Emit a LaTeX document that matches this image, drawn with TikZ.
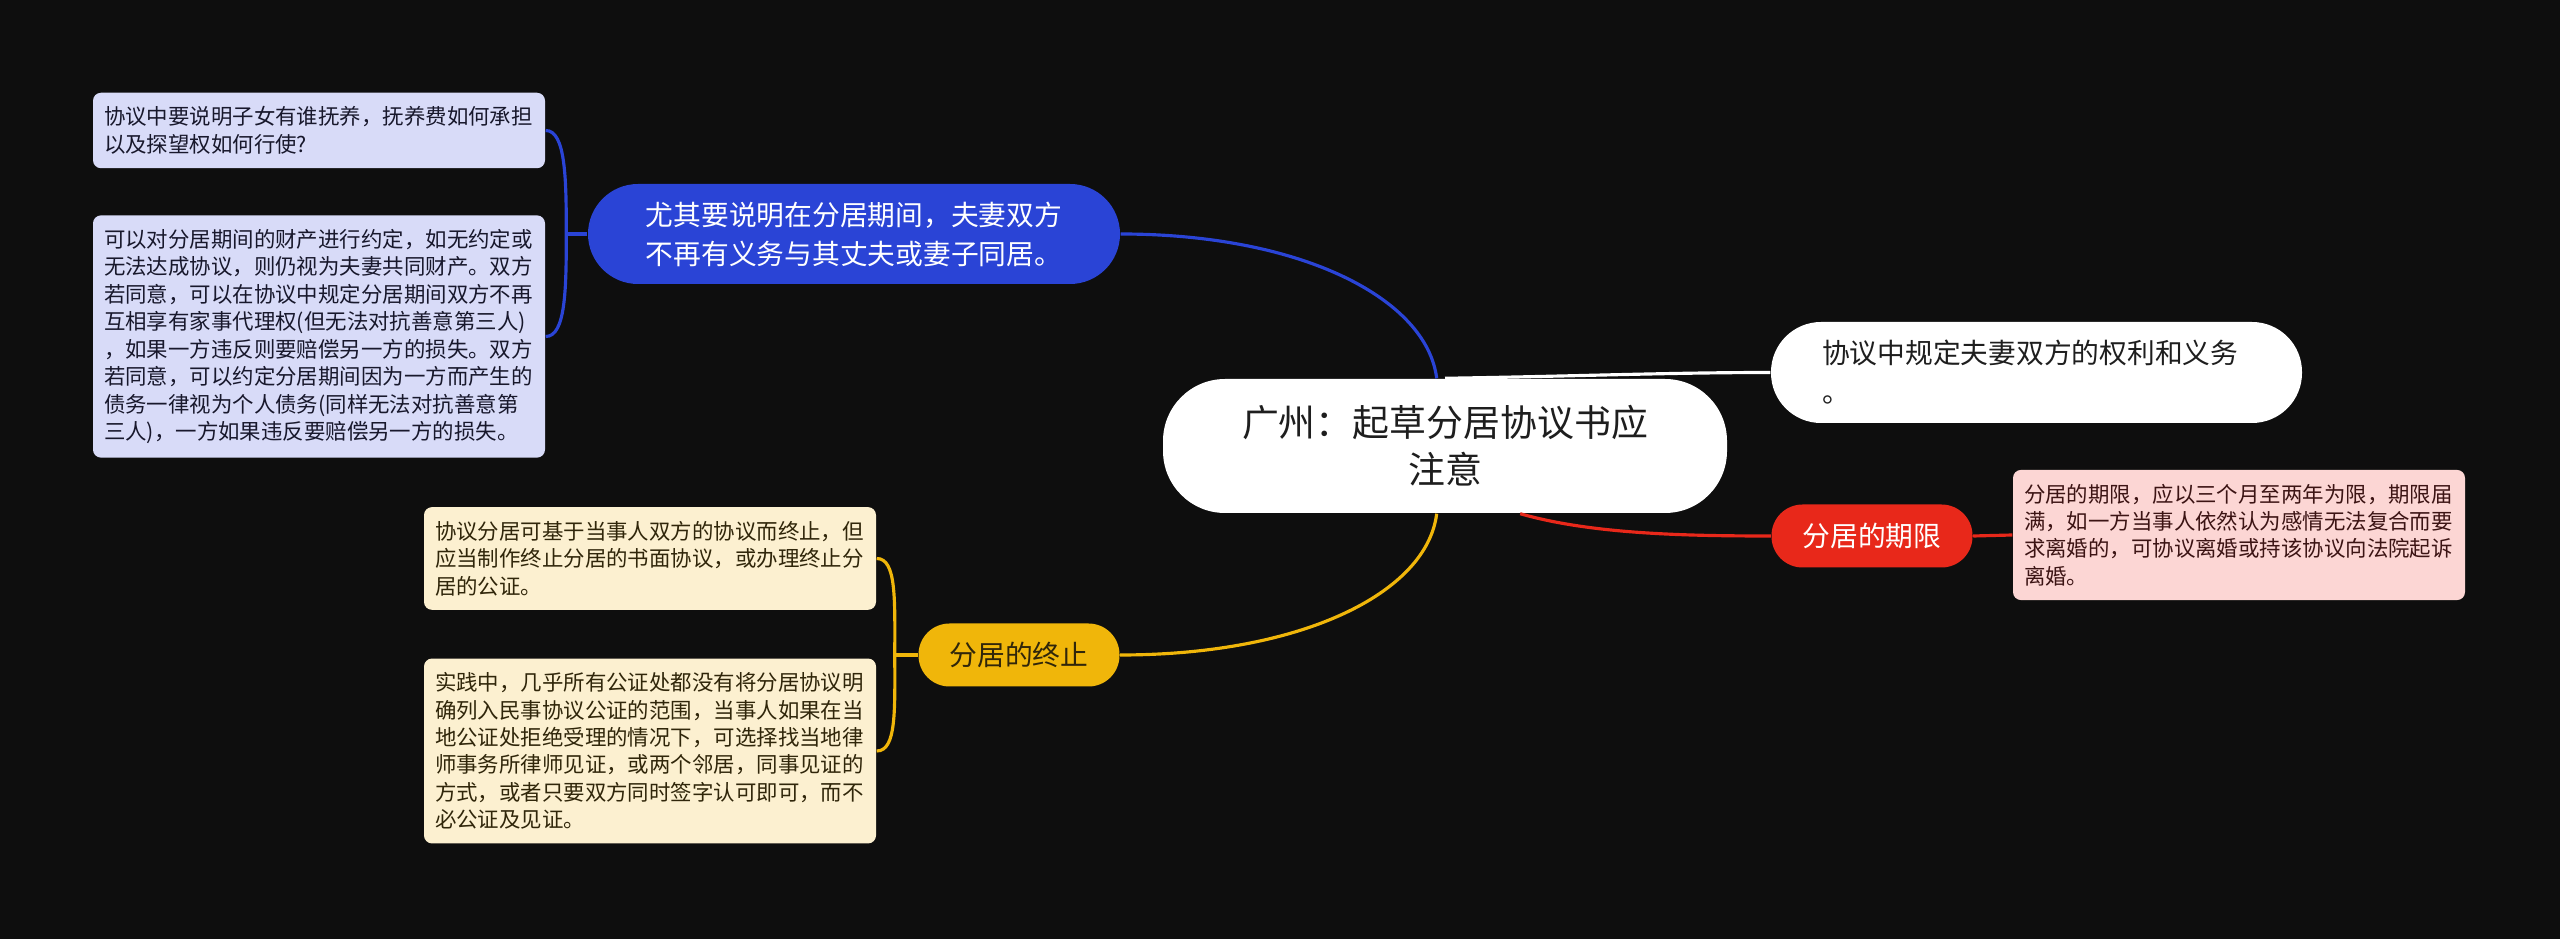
\documentclass[tikz,border=0pt]{standalone}
\usepackage{fontspec}
\setmainfont{Noto Sans CJK SC}
\definecolor{bgc}{RGB}{14,14,14}
\definecolor{bluec}{RGB}{42,68,214}
\definecolor{bluel}{RGB}{216,219,248}
\definecolor{bluet}{RGB}{24,24,44}
\definecolor{redc}{RGB}{232,40,26}
\definecolor{redl}{RGB}{252,214,212}
\definecolor{redt}{RGB}{60,20,20}
\definecolor{yelc}{RGB}{240,182,10}
\definecolor{yell}{RGB}{252,240,208}
\definecolor{yelt}{RGB}{48,38,10}
\definecolor{roott}{RGB}{30,30,30}
\begin{document}
\begin{tikzpicture}[
  leaf/.style={rounded corners=0.08cm,text width=4.3cm,inner xsep=0.11cm,inner ysep=0.14cm,align=left,font=\fontsize{6.1pt}{7.8pt}\selectfont},
  topic/.style={rounded corners=0.31cm,minimum height=0.63cm,minimum width=2.01cm,font=\fontsize{7.9pt}{11.1pt}\selectfont},
  link/.style={line width=0.9pt}]
\pgfmathsetmacro{\lx}{3.19}
\pgfmathsetmacro{\ly}{6.5}
\useasboundingbox[fill=bgc](0,0)rectangle(25.6,-9.39);
\node[fill=white,text=roott,minimum width=5.64cm,minimum height=1.34cm,rounded corners=0.62cm,align=center,font=\fontsize{10.5pt}{13.4pt}\selectfont](root)at(14.45,-4.46){广州：起草分居协议书应\\注意};
%
\node[topic,fill=bluec,text=white,minimum width=5.32cm,minimum height=1cm,rounded corners=0.5cm,align=center](blue)at(8.54,-2.34){尤其要说明在分居期间，夫妻双方\\不再有义务与其丈夫或妻子同居。};
\node[leaf,fill=bluel,text=bluet](bleafA)at(\lx,-1.305){协议中要说明子女有谁抚养，抚养费如何承担\\以及探望权如何行使?};
\node[leaf,fill=bluel,text=bluet](bleafB)at(\lx,-3.365){可以对分居期间的财产进行约定，如无约定或\\无法达成协议，则仍视为夫妻共同财产。双方\\若同意，可以在协议中规定分居期间双方不再\\互相享有家事代理权(但无法对抗善意第三人)\\，如果一方违反则要赔偿另一方的损失。双方\\若同意，可以约定分居期间因为一方而产生的\\债务一律视为个人债务(同样无法对抗善意第\\三人)，一方如果违反要赔偿另一方的损失。};
\draw[link,bluec](blue.west)--++(-0.21,0)coordinate(bj);
\draw[link,bluec](bleafA.east)..controls+(0.2,0)and+(0,0.55)..(bj)..controls+(0,-0.55)and+(0.2,0)..(bleafB.east);
\draw[link,bluec](root.97)..controls+(-0.1,0.8)and+(1.8,0)..(blue.east);
%
\node[topic,fill=white,text=roott,text width=4.15cm,align=left,inner xsep=0.58cm,minimum height=1.01cm,rounded corners=0.5cm](wnode)at(20.365,-3.725){\hspace*{-0.07cm}协议中规定夫妻双方的权利和义务\\\hspace*{-0.07cm}。};
\draw[link,white](root.north)..controls+(1.3,0.02)and+(-1.0,0)..(wnode.west);
%
\node[topic,fill=redc,text=white](red)at(18.72,-5.36){分居的期限};
\node[leaf,fill=redl,text=redt](rleaf)at(22.39,-5.35){分居的期限，应以三个月至两年为限，期限届\\满，如一方当事人依然认为感情无法复合而要\\求离婚的，可协议离婚或持该协议向法院起诉\\离婚。};
\draw[link,redc](root.-42)..controls+(0.7,-0.2)and+(-0.9,0)..(red.west);
\draw[link,redc](red.east)--(rleaf.west);
%
\node[topic,fill=yelc,text=yelt](yel)at(10.19,-6.55){分居的终止};
\node[leaf,fill=yell,text=yelt](yleafA)at(\ly,-5.585){协议分居可基于当事人双方的协议而终止，但\\应当制作终止分居的书面协议，或办理终止分\\居的公证。};
\node[leaf,fill=yell,text=yelt](yleafB)at(\ly,-7.51){实践中，几乎所有公证处都没有将分居协议明\\确列入民事协议公证的范围，当事人如果在当\\地公证处拒绝受理的情况下，可选择找当地律\\师事务所律师见证，或两个邻居，同事见证的\\方式，或者只要双方同时签字认可即可，而不\\必公证及见证。};
\draw[link,yelc](yel.west)--++(-0.23,0)coordinate(yj);
\draw[link,yelc](yleafA.east)..controls+(0.2,0)and+(0,0.55)..(yj)..controls+(0,-0.55)and+(0.2,0)..(yleafB.east);
\draw[link,yelc](root.-97)..controls+(-0.1,-0.8)and+(1.8,0)..(yel.east);
\end{tikzpicture}
\end{document}
